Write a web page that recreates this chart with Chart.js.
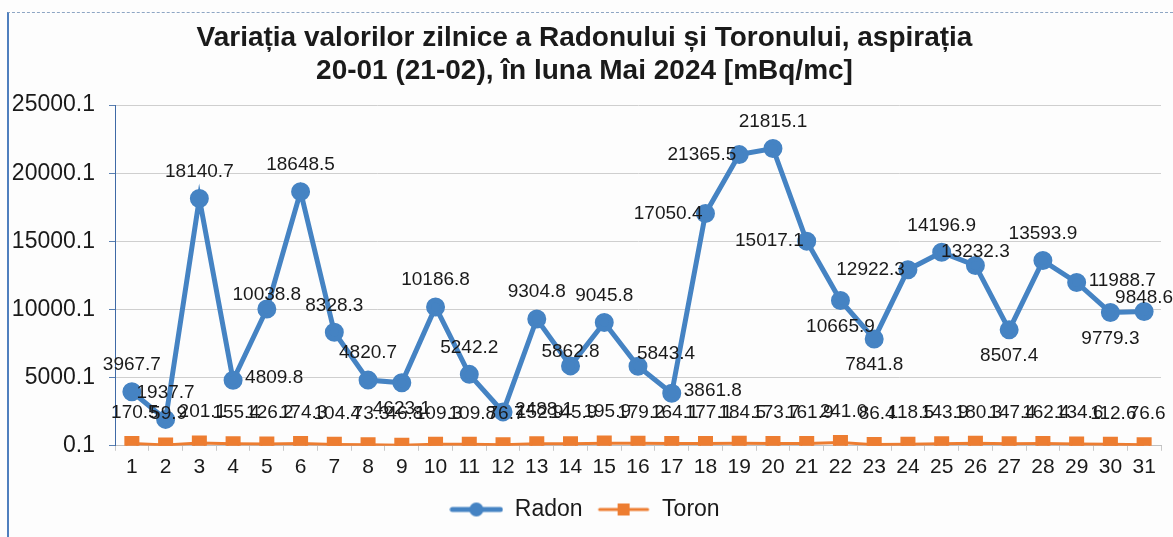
<!DOCTYPE html>
<html>
<head>
<meta charset="utf-8">
<script src="https://cdn.jsdelivr.net/npm/chart.js@4.4.1/dist/chart.umd.min.js"></script>
<style>
    html, body { margin: 0; padding: 0; background: #fff; }
    #wrap { position: relative; width: 1173px; height: 537px; overflow: hidden; background: #fdfdfd; }
    #frame {
        position: absolute; left: 7px; top: 12px; right: -5px; bottom: -5px;
        border-left: 2px solid #4f7fbe;
        border-top: 1px dashed #8ea6c4;
    }
    #chart { position: absolute; left: 0; top: 0; }
</style>
</head>
<body>
<div id="wrap">
    <div id="frame"></div>
    <canvas id="chart" width="1173" height="537"></canvas>
</div>
<script>
// zilele lunii
const days = Array.from({ length: 31 }, (_, i) => String(i + 1));

const radon = [
    3967.7, 1937.7, 18140.7, 4809.8, 10038.8, 18648.5, 8328.3, 4820.7, 4623.1, 10186.8,
    5242.2, 2488.1, 9304.8, 5862.8, 9045.8, 5843.4, 3861.8, 17050.4, 21365.5, 21815.1,
    15017.1, 10665.9, 7841.8, 12922.3, 14196.9, 13232.3, 8507.4, 13593.9, 11988.7, 9779.3,
    9848.6
];

const toron = [
    170.5, 59.9, 201.1, 155.4, 126.2, 174.3, 104.4, 73.3, 46.8, 109.3,
    109.8, 76.7, 152.9, 145.9, 195.9, 179.2, 164.1, 177.1, 184.5, 173.7,
    161.9, 241.0, 86.4, 118.5, 143.9, 180.3, 147.4, 162.4, 134.6, 112.6,
    76.6
];

const yTicks = [0.1, 5000.1, 10000.1, 15000.1, 20000.1, 25000.1];

const RADON_COLOR = "#4583c3";
const TORON_COLOR = "#ed7d31";
const FONT = "Arial, 'Liberation Sans', sans-serif";

// where each Radon label sits relative to its point
const radonLabelPos = [
    "top", "top", "top", "right", "near", "top", "top", "top", "bottom", "top",
    "top", "right", "top", "near", "top", "nearRight", "right", "left", "left", "top",
    "left", "bottom", "bottom", "left", "top", "near", "bottom", "top", "right", "bottom",
    "near"
];

/* legend symbol: short line with marker */
function legendIcon(color, shape) {
    const c = document.createElement("canvas");
    c.width = 54;
    c.height = 16;
    const ctx = c.getContext("2d");
    ctx.strokeStyle = color;
    ctx.fillStyle = color;
    ctx.lineWidth = shape === "circle" ? 5 : 3;
    ctx.lineCap = "round";
    ctx.beginPath();
    ctx.moveTo(3, 8);
    ctx.lineTo(51, 8);
    ctx.stroke();
    ctx.beginPath();
    if (shape === "circle") {
        ctx.arc(27, 8, 7, 0, Math.PI * 2);
    } else {
        ctx.rect(21, 2, 12, 12);
    }
    ctx.fill();
    return c;
}

/* data labels */
const labelPlugin = {
    id: "valueLabels",
    afterDatasetsDraw(chart) {
        const ctx = chart.ctx;
        ctx.save();
        ctx.font = "19px " + FONT;
        ctx.fillStyle = "#1a1a1a";
        ctx.textBaseline = "middle";

        chart.getDatasetMeta(0).data.forEach((pt, i) => {
            const pos = radonLabelPos[i];
            const txt = radon[i].toFixed(1);
            let x = pt.x, y = pt.y;
            ctx.textAlign = "center";
            if (pos === "top") y -= 27;
            if (pos === "near") y -= 14;
            if (pos === "nearRight") { x += 28; y -= 12; }
            if (pos === "bottom") y += 26;
            if (pos === "right") { ctx.textAlign = "left"; x += 12; y -= 2; }
            if (pos === "left") { ctx.textAlign = "right"; x -= 3; }
            ctx.fillText(txt, x, y);
        });

        chart.getDatasetMeta(1).data.forEach((pt, i) => {
            ctx.textAlign = "center";
            ctx.fillText(toron[i].toFixed(1), pt.x + 3, pt.y - 31);
        });
        ctx.restore();
    }
};

new Chart(document.getElementById("chart"), {
    type: "line",
    data: {
        labels: days,
        datasets: [
            {
                label: "Radon",
                data: radon,
                borderColor: RADON_COLOR,
                backgroundColor: RADON_COLOR,
                borderWidth: 5,
                pointRadius: 7,
                pointHoverRadius: 7,
                pointStyle: "circle",
                tension: 0
            },
            {
                label: "Toron",
                data: toron,
                borderColor: TORON_COLOR,
                backgroundColor: TORON_COLOR,
                borderWidth: 3,
                pointRadius: 8.5,
                pointHoverRadius: 8.5,
                pointStyle: "rect",
                tension: 0
            }
        ]
    },
    options: {
        responsive: false,
        animation: false,
        layout: { padding: { left: 0, right: 4, top: 0, bottom: 6 } },
        plugins: {
            title: {
                display: true,
                text: [
                    "Variația valorilor zilnice a Radonului și Toronului, aspirația",
                    "20-01 (21-02), în luna Mai 2024 [mBq/mc]"
                ],
                color: "#1a1a1a",
                font: { family: FONT, size: 28, weight: "bold", lineHeight: 1.18 },
                padding: { top: 22, bottom: 17 }
            },
            legend: {
                position: "bottom",
                labels: {
                    usePointStyle: true,
                    pointStyleWidth: 54,
                    color: "#1a1a1a",
                    font: { family: FONT, size: 23 },
                    padding: 14,
                    generateLabels(chart) {
                        return chart.data.datasets.map((ds, i) => ({
                            text: ds.label,
                            pointStyle: legendIcon(ds.borderColor, i === 0 ? "circle" : "rect"),
                            fillStyle: ds.borderColor,
                            strokeStyle: ds.borderColor,
                            lineWidth: 0,
                            datasetIndex: i,
                            fontColor: "#1a1a1a"
                        }));
                    }
                }
            },
            tooltip: { enabled: false }
        },
        scales: {
            x: {
                offset: true,
                grid: {
                    display: true,
                    drawOnChartArea: false,
                    drawTicks: true,
                    tickLength: 5,
                    offset: true,
                    color: "#c8c8c8"
                },
                border: { color: "#c0c0c0", width: 1 },
                ticks: {
                    color: "#1a1a1a",
                    font: { family: FONT, size: 21 },
                    padding: 4,
                    maxRotation: 0,
                    autoSkip: false
                }
            },
            y: {
                min: 0.1,
                max: 25000.1,
                afterBuildTicks(axis) {
                    axis.ticks = yTicks.map(v => ({ value: v }));
                },
                afterFit(axis) {
                    axis.width = 115;
                },
                grid: {
                    color: "#cfcfcf",
                    tickLength: 6,
                    tickColor: "#5a7fb0"
                },
                border: { color: "#3f6aa6", width: 1 },
                ticks: {
                    color: "#1a1a1a",
                    font: { family: FONT, size: 23 },
                    padding: 14,
                    callback: v => Number(v).toFixed(1)
                }
            }
        }
    },
    plugins: [labelPlugin]
});
</script>
</body>
</html>
